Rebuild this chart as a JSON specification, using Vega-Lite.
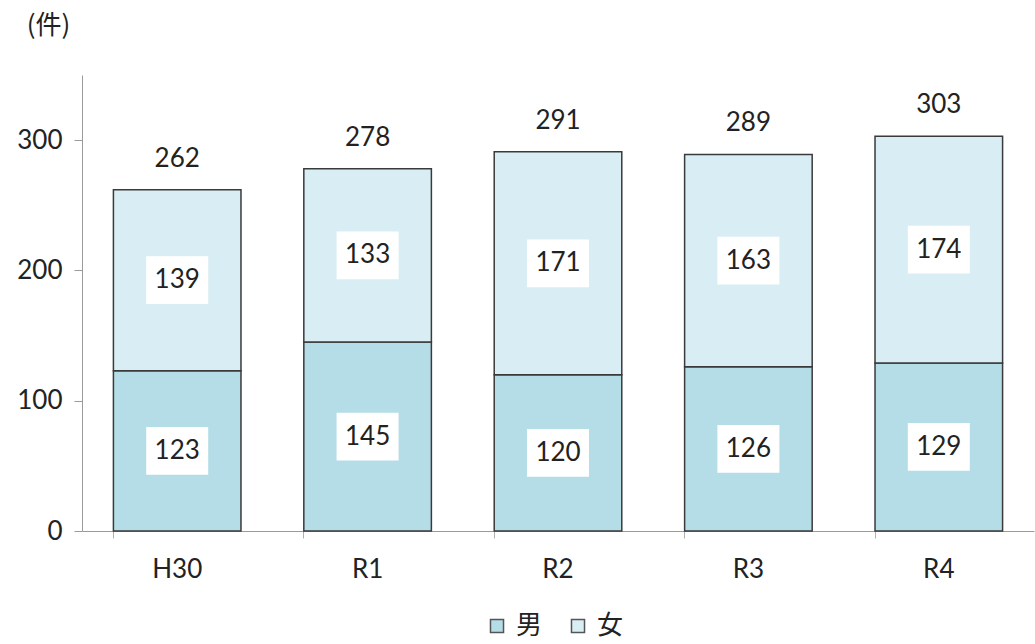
{
  "$schema": "https://vega.github.io/schema/vega-lite/v6.json",
  "width": 952,
  "height": 456,
  "autosize": {"type": "none"},
  "padding": {"left": 82, "top": 75, "right": 1, "bottom": 113},
  "background": "white",
  "config": {
    "view": {"stroke": null},
    "font": "Lato",
    "axis": {"labelFont": "Lato", "titleFont": "Noto Sans CJK JP", "domainColor": "#9a9a9a", "tickColor": "#9a9a9a", "labelColor": "#222222", "grid": false},
    "axisX": {"labelFontSize": 26, "labelPadding": 18, "tickSize": 7, "labelAngle": 0, "bandPosition": 0, "tickColor": "#b0b0b0"},
    "axisY": {"labelFontSize": 26, "labelPadding": 12, "tickSize": 8, "titleFontSize": 26, "titleFontWeight": "normal", "titleAngle": 0, "titleX": -34, "titleY": -50, "titleAlign": "center", "titleBaseline": "middle", "titleColor": "#222222"}
  },
  "data": {
    "values": [
      {"year": "H30", "sex": "男", "count": 123},
      {"year": "H30", "sex": "女", "count": 139},
      {"year": "R1", "sex": "男", "count": 145},
      {"year": "R1", "sex": "女", "count": 133},
      {"year": "R2", "sex": "男", "count": 120},
      {"year": "R2", "sex": "女", "count": 171},
      {"year": "R3", "sex": "男", "count": 126},
      {"year": "R3", "sex": "女", "count": 163},
      {"year": "R4", "sex": "男", "count": 129},
      {"year": "R4", "sex": "女", "count": 174}
    ]
  },
  "transform": [
    {"calculate": "datum.sex === '男' ? 0 : 1", "as": "order"},
    {"stack": "count", "groupby": ["year"], "sort": [{"field": "order", "order": "ascending"}], "as": ["y0", "y1"]},
    {"calculate": "(datum.y0 + datum.y1) / 2", "as": "mid"}
  ],
  "encoding": {
    "x": {
      "field": "year", "type": "nominal", "sort": ["H30", "R1", "R2", "R3", "R4"],
      "scale": {"paddingInner": 0.33, "paddingOuter": 0.165},
      "axis": {"title": null}
    }
  },
  "layer": [
    {
      "mark": {"type": "bar", "stroke": "#3a3a3a", "strokeWidth": 1.5},
      "encoding": {
        "y": {
          "field": "y0", "type": "quantitative",
          "scale": {"domain": [0, 350]},
          "axis": {"values": [0, 100, 200, 300], "title": "(件)"}
        },
        "y2": {"field": "y1"},
        "fill": {
          "field": "sex", "type": "nominal",
          "scale": {"domain": ["男", "女"], "range": ["#b5dde8", "#d9eef4"]},
          "legend": {
            "title": null, "orient": "none", "direction": "horizontal",
            "legendX": 402, "legendY": 538,
            "symbolType": "square", "symbolSize": 170, "symbolStrokeColor": "#555555", "symbolStrokeWidth": 1.5,
            "labelFontSize": 26, "labelFont": "Noto Sans CJK JP", "labelColor": "#222222", "columnPadding": 22, "labelOffset": 6
          }
        }
      }
    },
    {
      "mark": {"type": "point", "filled": true, "fill": "white", "opacity": 1, "strokeWidth": 0, "shape": "M-1,-0.77L1,-0.77L1,0.77L-1,0.77Z", "size": 3844},
      "encoding": {"y": {"field": "mid", "type": "quantitative", "axis": {"values": [0, 100, 200, 300], "title": "(件)"}}}
    },
    {
      "mark": {"type": "text", "fontSize": 26, "color": "#222222"},
      "encoding": {
        "y": {"field": "mid", "type": "quantitative", "axis": {"values": [0, 100, 200, 300], "title": "(件)"}},
        "text": {"field": "count", "type": "quantitative"}
      }
    },
    {
      "transform": [{"aggregate": [{"op": "sum", "field": "count", "as": "total"}], "groupby": ["year"]}],
      "mark": {"type": "text", "fontSize": 26, "color": "#222222", "dy": -31},
      "encoding": {
        "y": {"field": "total", "type": "quantitative", "axis": {"values": [0, 100, 200, 300], "title": "(件)"}},
        "text": {"field": "total", "type": "quantitative"}
      }
    }
  ]
}
